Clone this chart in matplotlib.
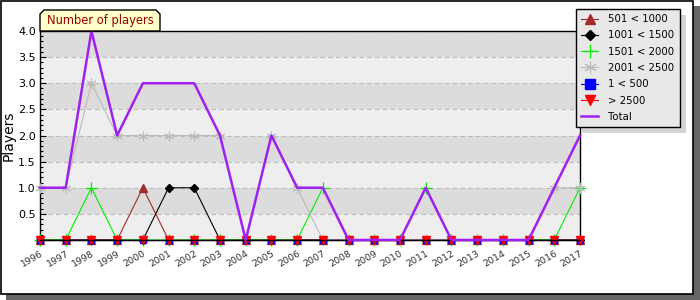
import matplotlib
matplotlib.use("Agg")
import matplotlib.pyplot as plt
from matplotlib.patches import Rectangle, Polygon
from matplotlib.transforms import IdentityTransform
from matplotlib.ticker import MultipleLocator, FormatStrFormatter

# data
years = list(range(1996, 2018))
s_501_1000 = [0, 0, 0, 0, 1, 0, 0, 0, 0, 0, 0, 0, 0, 0, 0, 0, 0, 0, 0, 0, 0, 0]
s_1001_1500 = [0, 0, 0, 0, 0, 1, 1, 0, 0, 0, 0, 0, 0, 0, 0, 0, 0, 0, 0, 0, 0, 0]
s_1501_2000 = [0, 0, 1, 0, 0, 0, 0, 0, 0, 0, 0, 1, 0, 0, 0, 1, 0, 0, 0, 0, 0, 1]
s_2001_2500 = [1, 1, 3, 2, 2, 2, 2, 2, 0, 2, 1, 0, 0, 0, 0, 0, 0, 0, 0, 0, 1, 1]
s_1_500 = [0] * 22
s_2500 = [0] * 22
total = [1, 1, 4, 2, 3, 3, 3, 2, 0, 2, 1, 1, 0, 0, 0, 1, 0, 0, 0, 0, 1, 2]

W, H = 700, 300
fig = plt.figure(figsize=(7, 3), dpi=100)
fig.patch.set_facecolor("white")

# frame with shadow
fig.patches.append(Rectangle((6 / W, 0), 1 - 6 / W, 1 - 6 / H, transform=fig.transFigure,
                             facecolor="#666666", edgecolor="none", zorder=-10))
fig.patches.append(Rectangle((0.5 / W, 6 / H), 692 / W, 1 - 6.5 / H, transform=fig.transFigure,
                             facecolor="white", edgecolor="black", linewidth=1.2, zorder=-9))

ax = fig.add_axes([40 / W, 1 - 240 / H, 540 / W, 209 / H])
ax.set_facecolor("#eeeeee")
for i in range(8):
    if i % 2 == 1:
        ax.axhspan(i * 0.5, (i + 1) * 0.5, color="#dcdcdc", zorder=0, lw=0)
ax.set_xlim(1996, 2017)
ax.set_ylim(0, 4)
ax.yaxis.set_minor_locator(MultipleLocator(0.1))
ax.set_yticks([0.5, 1.0, 1.5, 2.0, 2.5, 3.0, 3.5, 4.0])
ax.yaxis.set_major_formatter(FormatStrFormatter("%.1f"))
ax.grid(axis="y", color="#bbbbbb", linestyle=(0, (4, 3)), linewidth=0.8, zorder=1)
ax.set_axisbelow(True)
ax.tick_params(axis="y", which="major", direction="in", length=4, width=0.8, labelsize=8, pad=3)
ax.tick_params(axis="y", which="minor", direction="in", length=2, width=0.8)
ax.set_xticks(years)
ax.set_xticklabels([str(y) for y in years], rotation=30, ha="right",
                   rotation_mode="anchor", fontsize=6.8, color="#333333")
ax.tick_params(axis="x", direction="inout", length=7, width=0.8, pad=3)
for sp in ax.spines.values():
    sp.set_linewidth(1)
ax.spines["bottom"].set_zorder(5.5)
ax.set_ylabel("Players", fontsize=10, labelpad=2)

ax.plot(years, s_501_1000, color="#a52a2a", lw=0.8, marker="^", ms=6, label="501 < 1000", zorder=3, clip_on=False)
ax.plot(years, s_1001_1500, color="black", lw=0.8, marker="D", ms=4, label="1001 < 1500", zorder=3, clip_on=False)
ax.plot(years, s_1501_2000, color="#00ee00", lw=0.8, marker="+", ms=8, mew=0.9, label="1501 < 2000", zorder=3, clip_on=False)
ax.plot(years, s_2001_2500, color="#bbbbbb", lw=0.8, marker=(6, 2, 0), ms=7, mew=0.8, label="2001 < 2500", zorder=3, clip_on=False)
ax.plot(years, s_1_500, color="blue", lw=0.8, marker="s", ms=5, label="1 < 500", zorder=4, clip_on=False)
ax.plot(years, s_2500, color="red", lw=0.8, marker="v", ms=6, label="> 2500", zorder=5, clip_on=False)
ax.plot(years, total, color="#a020f0", lw=1.8, label="Total", zorder=6, clip_on=False)

leg = fig.legend(loc="upper left", bbox_to_anchor=(576 / W, 1 - 9 / H), borderaxespad=0,
                 fontsize=7.3, frameon=True, fancybox=False, edgecolor="black",
                 facecolor="#e8e8e8", framealpha=1, borderpad=0.5, labelspacing=0.62,
                 handlelength=1.7, handletextpad=1.0, markerscale=1.3)
leg.get_frame().set_linewidth(1)
leg.set_zorder(20)

# title tab
tab = [(40, 31), (40, 14), (44, 10), (156, 10), (160, 14), (160, 31)]
fig.patches.append(Polygon([(x / W, 1 - y / H) for x, y in tab], closed=True,
                           transform=fig.transFigure, facecolor="#ffffcc",
                           edgecolor="black", linewidth=1, zorder=5))
fig.text(100 / W, 1 - 20.5 / H, "Number of players", color="#990000", fontsize=8.3,
         ha="center", va="center", zorder=6)

# legend shadow
fig.canvas.draw()
bb = leg.get_window_extent()
fig.patches.append(Rectangle((bb.x0 + 6, bb.y0 - 6), bb.width, bb.height,
                             transform=IdentityTransform(), facecolor="#d4d4d4",
                             edgecolor="none", zorder=15))

fig.savefig("out.png", dpi=100)
